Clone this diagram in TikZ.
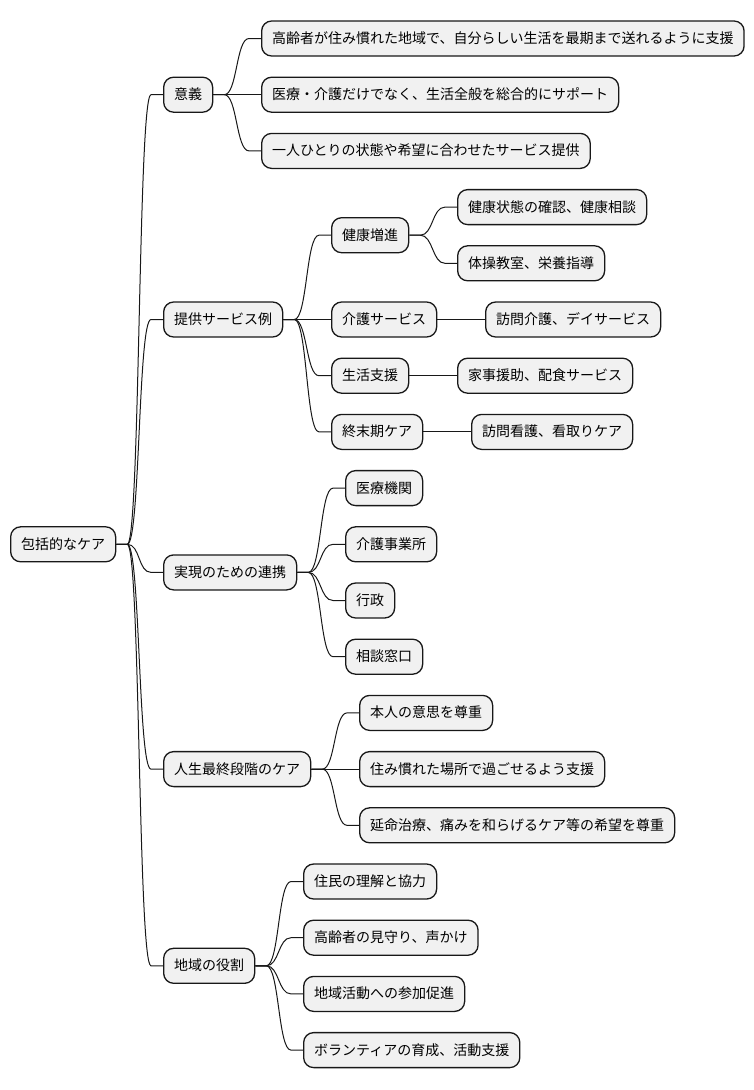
\documentclass[tikz,border=0pt]{standalone}
\usepackage{fontspec}
\setmainfont{Noto Sans CJK JP}
\usetikzlibrary{calc}
\definecolor{linec}{HTML}{181818}
\definecolor{boxfill}{HTML}{F1F1F1}
\begin{document}
\begin{tikzpicture}[x=1pt,y=-1pt,
 box/.style={draw=linec, fill=boxfill, line width=1.3pt, rounded corners=10pt, minimum height=35pt, inner xsep=10.5pt, inner ysep=0pt, text height=12pt, text depth=2pt, anchor=west, font=\fontsize{14pt}{16pt}\selectfont},
 conn/.style={to path={-- ++(11,0) .. controls +(13,0) and ($(\tikztotarget)+(-25,0)$) .. ($(\tikztotarget)+(-12,0)$) -- (\tikztotarget)}},
 link/.style={draw=linec, line width=1pt}
]
\useasboundingbox (0,0) rectangle (754,1090);

\node[box] (root) at (10,544.3) {包括的なケア};

% level 1
\node[box] (a) at (163,94.7) {意義};
\node[box] (b) at (163,319.5) {提供サービス例};
\node[box] (c) at (163,572.4) {実現のための連携};
\node[box] (d) at (163,769.1) {人生最終段階のケア};
\node[box] (e) at (163,965.8) {地域の役割};

% 意義
\node[box] (a1) at (261,38.5) {高齢者が住み慣れた地域で、自分らしい生活を最期まで送れるように支援};
\node[box] (a2) at (261,94.7) {医療・介護だけでなく、生活全般を総合的にサポート};
\node[box] (a3) at (261,150.9) {一人ひとりの状態や希望に合わせたサービス提供};

% 提供サービス例
\node[box] (b1) at (331,235.2) {健康増進};
\node[box] (b2) at (331,319.5) {介護サービス};
\node[box] (b3) at (331,375.7) {生活支援};
\node[box] (b4) at (331,431.9) {終末期ケア};
\node[box] (b11) at (457,207.1) {健康状態の確認、健康相談};
\node[box] (b12) at (457,263.3) {体操教室、栄養指導};
\node[box] (b21) at (485,319.5) {訪問介護、デイサービス};
\node[box] (b31) at (457,375.7) {家事援助、配食サービス};
\node[box] (b41) at (471,431.9) {訪問看護、看取りケア};

% 実現のための連携
\node[box] (c1) at (345,488.1) {医療機関};
\node[box] (c2) at (345,544.3) {介護事業所};
\node[box] (c3) at (345,600.5) {行政};
\node[box] (c4) at (345,656.7) {相談窓口};

% 人生最終段階のケア
\node[box] (d1) at (359,712.9) {本人の意思を尊重};
\node[box] (d2) at (359,769.1) {住み慣れた場所で過ごせるよう支援};
\node[box] (d3) at (359,825.3) {延命治療、痛みを和らげるケア等の希望を尊重};

% 地域の役割
\node[box] (e1) at (303,881.5) {住民の理解と協力};
\node[box] (e2) at (303,937.7) {高齢者の見守り、声かけ};
\node[box] (e3) at (303,993.9) {地域活動への参加促進};
\node[box] (e4) at (303,1050.1) {ボランティアの育成、活動支援};

% connectors
\foreach \p/\c in {root/a,root/b,root/c,root/d,root/e,
  a/a1,a/a2,a/a3,
  b/b1,b/b2,b/b3,b/b4,b1/b11,b1/b12,b2/b21,b3/b31,b4/b41,
  c/c1,c/c2,c/c3,c/c4,
  d/d1,d/d2,d/d3,
  e/e1,e/e2,e/e3,e/e4}
  \draw[link] (\p.east) to[conn] (\c.west);
\end{tikzpicture}
\end{document}
